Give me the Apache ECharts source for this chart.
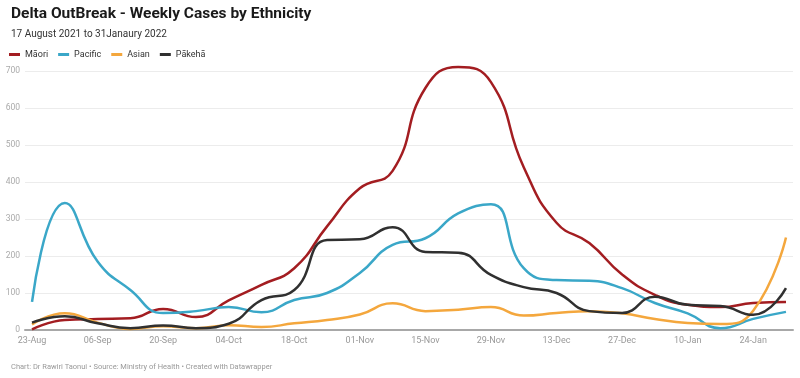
<!DOCTYPE html>
<html>
<head>
<meta charset="utf-8">
<script src="https://cdn.jsdelivr.net/npm/echarts@6/dist/echarts.min.js"></script>
<style>
html,body{margin:0;padding:0;background:#fff;}
#chart{width:800px;height:378px;}
</style>
</head>
<body>
<div id="chart"></div>
<script>
const weeks = ['2021-08-23','2021-08-30','2021-09-06','2021-09-13','2021-09-20','2021-09-27',
  '2021-10-04','2021-10-11','2021-10-18','2021-10-25','2021-11-01','2021-11-08',
  '2021-11-15','2021-11-22','2021-11-29','2021-12-06','2021-12-13','2021-12-20',
  '2021-12-27','2022-01-03','2022-01-10','2022-01-17','2022-01-24','2022-01-31'];
const maori   = [2, 27, 30, 32, 57, 35, 80, 122, 167, 280, 383, 430, 654, 711, 670, 440, 290, 235, 150, 95, 68, 62, 73, 76];
const pacific = [76, 343, 185, 108, 46, 51, 62, 48, 81, 100, 154, 230, 248, 315, 340, 167, 135, 133, 113, 73, 45, 5, 30, 49];
const asian   = [15, 45, 20, 3, 10, 5, 13, 8, 18, 27, 42, 72, 51, 55, 62, 39, 46, 51, 45, 30, 19, 16, 52, 250];
const pakeha  = [20, 37, 18, 5, 12, 5, 17, 81, 108, 243, 245, 278, 211, 209, 149, 116, 100, 51, 46, 90, 68, 65, 41, 113];
const tickDates  = ['2021-08-23','2021-09-06','2021-09-20','2021-10-04','2021-10-18','2021-11-01',
  '2021-11-15','2021-11-29','2021-12-13','2021-12-27','2022-01-10','2022-01-24'];
const tickLabels = ['23-Aug','06-Sep','20-Sep','04-Oct','18-Oct','01-Nov','15-Nov','29-Nov','13-Dec','27-Dec','10-Jan','24-Jan'];

function ts(s){ const p = s.split('-').map(Number); return Date.UTC(p[0], p[1]-1, p[2]); }
const DAY = 86400000;
const tickTimes = tickDates.map(ts);
function pairs(vals){ return weeks.map((d,i)=>[ts(d), vals[i]]); }

const FONT = 'Roboto, "Noto Sans", sans-serif';
const chart = echarts.init(document.getElementById('chart'), null, {renderer:'canvas'});
const mk = (name, vals, color) => ({
  name, type:'line', data: pairs(vals), smooth: true, showSymbol:false, symbol:'none', clip:false,
  lineStyle:{width:2.5, color}, itemStyle:{color}, emphasis:{disabled:true}
});
chart.setOption({
  animation:false,
  backgroundColor:'#fff',
  textStyle:{fontFamily:FONT},
  title:[
    {text:'Delta OutBreak - Weekly Cases by Ethnicity', left:6, top:1,
     textStyle:{fontFamily:FONT, fontSize:15.5, fontWeight:'bold', color:'#1a1a1a'}},
    {text:'17 August 2021 to 31Janaury 2022', left:6, top:24,
     textStyle:{fontFamily:FONT, fontSize:10, fontWeight:'normal', color:'#333'}},
    {text:'Chart: Dr Rawiri Taonui • Source: Ministry of Health • Created with Datawrapper', left:6, top:358,
     textStyle:{fontFamily:FONT, fontSize:7.5, fontWeight:'normal', color:'#999'}}
  ],
  legend:{
    left:4, top:45, icon:'rect', itemWidth:11, itemHeight:3, itemGap:10,
    textStyle:{fontFamily:FONT, fontSize:9, color:'#333'},
    data:['Māori','Pacific','Asian','Pākehā']
  },
  grid:{left:25, right:7, top:71, bottom:48},
  xAxis:{
    type:'value', min: ts('2021-08-23') - 1.5*DAY, max: ts('2022-01-31') + 1.5*DAY,
    axisLine:{show:true, lineStyle:{color:'#a8a8a8', width:2}},
    axisTick:{show:false}, splitLine:{show:false},
    axisLabel:{customValues: tickTimes, color:'#999', fontSize:9, fontFamily:FONT, margin:6,
      formatter: v => { const i = tickTimes.indexOf(v); return i >= 0 ? tickLabels[i] : ''; }}
  },
  yAxis:{
    type:'value', min:0, max:700, interval:100,
    axisLine:{show:false}, axisTick:{show:false},
    axisLabel:{color:'#aaa', fontSize:8.5, fontFamily:FONT, margin:5},
    splitLine:{lineStyle:{color:'#ececec', width:1}}
  },
  series:[
    mk('Māori', maori, '#a31d21'),
    mk('Pacific', pacific, '#3aa7c8'),
    mk('Asian', asian, '#f4a73d'),
    mk('Pākehā', pakeha, '#303030')
  ]
});
</script>
</body>
</html>
